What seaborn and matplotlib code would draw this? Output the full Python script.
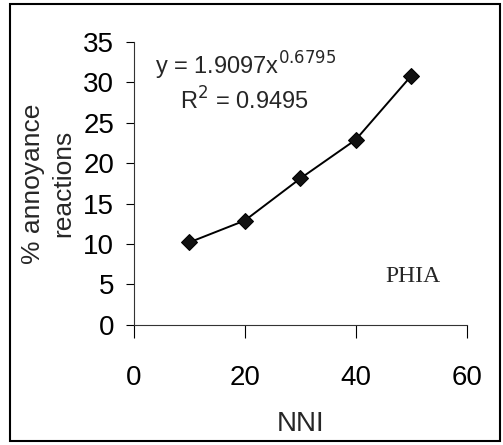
import matplotlib
matplotlib.use("Agg")
import matplotlib.pyplot as plt
import seaborn as sns
import pandas as pd
from matplotlib.patches import Rectangle

# values
nni = [10, 20, 30, 40, 50]
annoyance = [10.2, 12.9, 18.1, 22.9, 30.8]
y_ticks = [0, 5, 10, 15, 20, 25, 30, 35]
x_ticks = [0, 20, 40, 60]

df = pd.DataFrame({"NNI": nni, "annoyance": annoyance})

sns.set_style("ticks")
plt.rcParams["font.family"] = ["Liberation Sans", "DejaVu Sans"]

fig = plt.figure(figsize=(5.03, 4.45), dpi=100)
ax = fig.add_axes([0.266, 0.270, 0.662, 0.636])

sns.lineplot(data=df, x="NNI", y="annoyance", ax=ax, color="black",
             linewidth=1.4, marker="D", markersize=8,
             markerfacecolor="#111111", markeredgecolor="black")

ax.set_xlim(0, 60)
ax.set_ylim(0, 35)
ax.set_xticks(x_ticks)
ax.set_yticks(y_ticks)
ax.tick_params(axis="y", labelsize=20, length=6, width=0.8, pad=8, colors="black")
ax.tick_params(axis="x", labelsize=20, length=9, width=0.8, pad=20, colors="black")
sns.despine(ax=ax)
for s in ["left", "bottom"]:
    ax.spines[s].set_linewidth(0.8)
    ax.spines[s].set_color("#333333")

ax.set_xlabel("NNI", fontsize=20, labelpad=14)
ax.set_ylabel("% annoyance\nreactions", fontsize=19, linespacing=1.3, labelpad=6)

ax.text(0.065, 0.915, r"y = 1.9097x$^{0.6795}$", transform=ax.transAxes,
        fontsize=17, va="center", ha="left")
ax.text(0.14, 0.79, r"R$^{2}$ = 0.9495", transform=ax.transAxes,
        fontsize=17, va="center", ha="left")
ax.text(0.755, 0.17, "PHIA", transform=ax.transAxes, fontsize=17,
        family="Liberation Serif", va="center", ha="left")

fig.patches.append(Rectangle((0.02, 0.008), 0.975, 0.982, transform=fig.transFigure,
                             fill=False, edgecolor="black", linewidth=1.5))

fig.savefig("out.png", dpi=100)
